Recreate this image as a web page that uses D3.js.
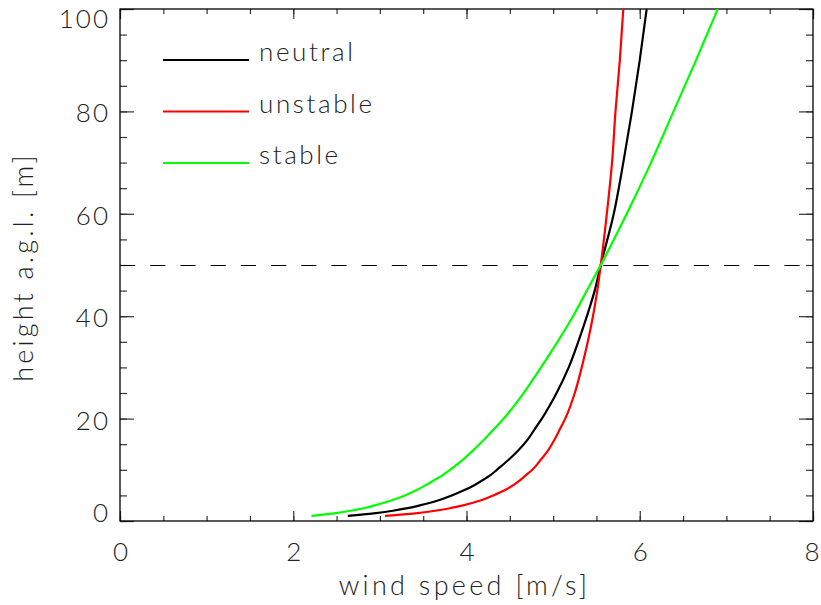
<!DOCTYPE html>
<html>
<head>
<meta charset="utf-8">
<script src="https://cdn.jsdelivr.net/npm/d3@7"></script>
<style>
  html, body { margin: 0; padding: 0; background: #fff; }
  svg text { font-family: "Lato", "DejaVu Sans", sans-serif; font-weight: 300; fill: #222; }
</style>
</head>
<body>
<svg id="chart" width="821" height="605"></svg>
<script>
// Heights above ground level [m]
const heights = [1, 1.5, 2, 2.5, 3, 4, 5, 6, 7, 8, 9, 10, 12, 14, 16, 18, 20, 25, 30, 35, 40, 45, 50, 60, 70, 80, 90, 100];

// Wind speed [m/s] at each height, per stability class
const neutral  = [2.63, 2.93, 3.15, 3.32, 3.45, 3.67, 3.83, 3.97, 4.09, 4.19, 4.28, 4.35, 4.49, 4.61, 4.71, 4.79, 4.87, 5.04, 5.18, 5.29, 5.39, 5.48, 5.55, 5.70, 5.81, 5.91, 6.00, 6.08];
const unstable = [3.06, 3.41, 3.64, 3.81, 3.95, 4.16, 4.31, 4.44, 4.54, 4.62, 4.69, 4.76, 4.86, 4.95, 5.02, 5.08, 5.14, 5.25, 5.33, 5.40, 5.46, 5.51, 5.55, 5.62, 5.68, 5.72, 5.77, 5.81];
const stable   = [2.21, 2.47, 2.66, 2.81, 2.93, 3.13, 3.29, 3.42, 3.53, 3.63, 3.73, 3.81, 3.96, 4.09, 4.21, 4.32, 4.43, 4.66, 4.86, 5.05, 5.23, 5.39, 5.55, 5.85, 6.13, 6.39, 6.65, 6.90];

const seriesNames  = ["neutral", "unstable", "stable"];
const seriesColors = ["#000000", "#ff0000", "#00ff00"];
const seriesValues = [neutral, unstable, stable];

// Reference height marked with a dashed line
const refHeight = 50;

// Axis ticks
const xMajor = [0, 2, 4, 6, 8];
const xMinor = d3.range(0, 8.01, 0.5);
const yMajor = [0, 20, 40, 60, 80, 100];
const yMinor = d3.range(0, 100.1, 5);

const xTitle = "wind speed [m/s]";
const yTitle = "height a.g.l. [m]";

const svg = d3.select("#chart");
const L = 120, R = 813, T = 9, B = 521;

const x = d3.scaleLinear().domain([0, 8]).range([L, R]);
const y = d3.scaleLinear().domain([0, 100]).range([B, T]);

const tickFont = 26;
const tickColor = "#333";

function styleAxis(g) {
  g.select(".domain").remove();
  g.selectAll(".tick line").attr("stroke", tickColor).attr("stroke-width", 1.2);
  g.selectAll("text")
    .attr("font-size", tickFont)
    .attr("letter-spacing", 2)
    .style("font-family", "Lato, 'DejaVu Sans', sans-serif");
}

// Minor ticks (all four sides, pointing inward)
svg.append("g").attr("transform", `translate(0,${B})`)
  .call(d3.axisBottom(x).tickValues(xMinor).tickSize(-5).tickFormat(""))
  .call(styleAxis);
svg.append("g").attr("transform", `translate(0,${T})`)
  .call(d3.axisTop(x).tickValues(xMinor).tickSize(-5).tickFormat(""))
  .call(styleAxis);
svg.append("g").attr("transform", `translate(${L},0)`)
  .call(d3.axisLeft(y).tickValues(yMinor).tickSize(-7).tickFormat(""))
  .call(styleAxis);
svg.append("g").attr("transform", `translate(${R},0)`)
  .call(d3.axisRight(y).tickValues(yMinor).tickSize(-7).tickFormat(""))
  .call(styleAxis);

// Major ticks with labels on bottom and left
svg.append("g").attr("transform", `translate(0,${B})`)
  .call(d3.axisBottom(x).tickValues(xMajor).tickSize(-10).tickPadding(22).tickFormat(d3.format("d")))
  .call(styleAxis)
  .call(g => g.selectAll("text").attr("letter-spacing", 0)
    .attr("dx", d => d === 8 ? "-0.06em" : 0));
svg.append("g").attr("transform", `translate(0,${T})`)
  .call(d3.axisTop(x).tickValues(xMajor).tickSize(-10).tickFormat(""))
  .call(styleAxis);
svg.append("g").attr("transform", `translate(${L},0)`)
  .call(d3.axisLeft(y).tickValues(yMajor).tickSize(-14).tickPadding(10).tickFormat(d3.format("d")))
  .call(styleAxis)
  .call(g => g.selectAll("text")
    // end labels sit inside the frame's vertical span
    .attr("dy", d => d === 100 ? "0.72em" : d === 0 ? "0.02em" : "0.4em"));
svg.append("g").attr("transform", `translate(${R},0)`)
  .call(d3.axisRight(y).tickValues(yMajor).tickSize(-14).tickFormat(""))
  .call(styleAxis);

// Plot frame
svg.append("rect")
  .attr("x", L).attr("y", T).attr("width", R - L).attr("height", B - T)
  .attr("fill", "none").attr("stroke", "#000").attr("stroke-width", 1.3);

// Dashed reference height
svg.append("line")
  .attr("x1", x(0)).attr("x2", x(8))
  .attr("y1", Math.round(y(refHeight)) + 0.5).attr("y2", Math.round(y(refHeight)) + 0.5)
  .attr("stroke", "#000").attr("stroke-width", 1.2)
  .attr("stroke-dasharray", "15.2,15");

// Profiles
const line = d3.line()
  .x(d => x(d[0]))
  .y(d => y(d[1]))
  .curve(d3.curveMonotoneY);

seriesValues.forEach((vals, i) => {
  const pts = vals.map((v, j) => [v, heights[j]]);
  svg.append("path")
    .datum(pts)
    .attr("d", line)
    .attr("fill", "none")
    .attr("stroke", seriesColors[i])
    .attr("stroke-width", 2.2);
});

// Legend
const legend = svg.append("g");
seriesNames.forEach((name, i) => {
  const ly = 60 + i * 51.5;
  legend.append("line")
    .attr("x1", 163).attr("x2", 249)
    .attr("y1", ly).attr("y2", ly)
    .attr("stroke", seriesColors[i]).attr("stroke-width", 2.2);
  legend.append("text")
    .attr("x", 259).attr("y", ly + 1)
    .attr("font-size", 26)
    .attr("letter-spacing", 2.6)
    .text(name);
});

// Axis titles
svg.append("text")
  .attr("x", (L + R) / 2 - 2).attr("y", 595)
  .attr("text-anchor", "middle")
  .attr("font-size", 27)
  .attr("letter-spacing", 3.3)
  .text(xTitle);

svg.append("text")
  .attr("transform", `translate(33,${(T + B) / 2 + 2}) rotate(-90)`)
  .attr("text-anchor", "middle")
  .attr("font-size", 27)
  .attr("letter-spacing", 3.2)
  .text(yTitle);
</script>
</body>
</html>
